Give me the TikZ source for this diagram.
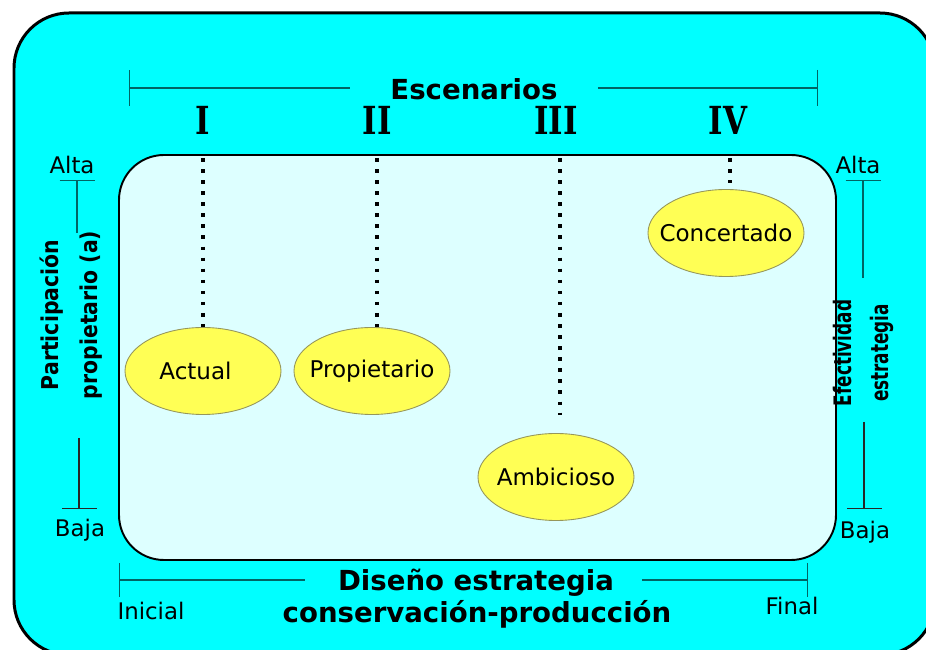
\documentclass[tikz,border=0pt]{standalone}
\usepackage{fontspec}
\usepackage{tikz}
\usetikzlibrary{shapes.geometric,arrows.meta}
\setmainfont{DejaVu Sans}
\newfontfamily\romanfont[FakeStretch=0.8]{DejaVu Serif}
\newfontfamily\narrowfont[FakeStretch=0.88]{DejaVu Sans}
\newfontfamily\narrowerfont[FakeStretch=0.7]{DejaVu Sans}

\begin{document}
\begin{tikzpicture}[
        escenario/.style={ellipse, draw=borde, fill=amarillo, line width=0.5pt, minimum width=3.12cm, minimum height=1.74cm, inner xsep=-0.4cm, inner ysep=0pt, font=\fontsize{13.1}{15}\selectfont},
        punteado/.style={line width=2pt, dash pattern=on 2pt off 4.3pt},
        escala/.style={draw=linea, line width=0.75pt},
        escalabaja/.style={draw=black!85, line width=1.1pt},
        nivel/.style={inner sep=0pt, font=\fontsize{13}{15}\selectfont},
        titulo/.style={inner sep=0pt, font=\fontsize{15.7}{18}\selectfont\bfseries},
        romano/.style={inner sep=0pt, font={\romanfont\bfseries\fontsize{22}{24}\selectfont}}
    ]
            \xdefinecolor{cian}{RGB}{0, 255, 255}
            \xdefinecolor{cianclaro}{RGB}{221, 255, 255}
            \xdefinecolor{amarillo}{RGB}{255, 255, 85}
            \xdefinecolor{borde}{RGB}{150, 150, 90}
            \xdefinecolor{linea}{RGB}{0, 100, 100}

            \useasboundingbox (0, 0) rectangle (18.52, -13);

            % Outer frame and inner panel
            \draw[line width=1.7pt, fill=cian, rounded corners=1.1cm] (0.28, -0.26) rectangle (18.7, -13.1);
            \node[draw, line width=1.1pt, fill=cianclaro, rounded corners=0.9cm, minimum width=14.34cm, minimum height=8.1cm, inner sep=0pt] (panel) at (9.55, -7.15) {};

            % Scenarios
            \node[escenario] (actual) at (4.06, -7.42) {\hspace*{-0.3cm}Actual};
            \node[escenario] (propietario) at (7.44, -7.42) {Propietario};
            \node[escenario] (ambicioso) at (11.12, -9.54) {Ambicioso};
            \node[escenario] (concertado) at (14.52, -4.66) {Concertado};

            % Roman numerals and dotted guides
            \foreach \x/\num in {4.06/I, 7.54/II, 11.12/III, 14.56/IV} {
                    \node[romano] (rom-\num) at (\x, -2.4) {\num};
                }
            \foreach \x [count=\i] in {4.06, 7.54, 11.2, 14.6} {
                    \coordinate (d\i) at (\x, -3.16);
                }
            \draw[punteado] (d1) -- (d1 |- actual.north);
            \draw[punteado] (d2) -- (d2 |- propietario.north);
            \draw[punteado, shorten >=0.36cm] (d3) -- (d3 |- ambicioso.north);
            \draw[punteado, shorten >=0.12cm] (d4) -- (d4 |- concertado.north);

            % Top scale
            \node[titulo] (escenarios) at (9.48, -1.78) {Escenarios};
            \coordinate (esc-ini) at (2.58, -1.76);
            \coordinate (esc-fin) at (16.36, -1.76);
            \draw[escala, {Bar[width=0.72cm]}-, shorten >=0.8cm] (esc-ini) -- (esc-ini -| escenarios.west);
            \draw[escala, -{Bar[width=0.72cm]}, shorten <=0.8cm] (esc-fin -| escenarios.east) -- (esc-fin);

            % Bottom scale
            \node[titulo] (diseno) at (9.52, -11.66) {Diseño estrategia};
            \node[titulo] (conservacion) at (9.54, -12.28) {conservación-producción};
            \coordinate (dis-ini) at (2.38, -11.6);
            \coordinate (dis-fin) at (16.16, -11.6);
            \draw[escala, {Bar[width=0.68cm]}-, shorten >=0.66cm] (dis-ini) -- (dis-ini -| diseno.west);
            \draw[escala, -{Bar[width=0.68cm]}, shorten <=0.56cm] (dis-fin -| diseno.east) -- (dis-fin);
            \node[nivel] (inicial) at (3.02, -12.22) {Inicial};
            \node[nivel] (final) at (15.84, -12.12) {Final};

            % Left scale
            \node[nivel] (alta-izq) at (1.44, -3.3) {Alta};
            \node[nivel] (baja-izq) at (1.6, -10.6) {Baja};
            \coordinate (izq-sup) at (1.54, -3.6);
            \coordinate (izq-sup-fin) at (1.54, -4.66);
            \coordinate (izq-inf-ini) at (1.58, -8.76);
            \coordinate (izq-inf) at (1.58, -10.18);
            \draw[escala, {Bar[width=0.7cm]}-] (izq-sup) -- (izq-sup-fin);
            \draw[escalabaja, -{Bar[width=0.7cm, line width=0.75pt]}] (izq-inf-ini) -- (izq-inf);
            \node[rotate=90, align=center, inner sep=0pt, font={\narrowfont\bfseries\fontsize{13.2}{22}\selectfont}] (participacion) at (1.42, -6.3) {Participación\\propietario (a)};

            % Right scale
            \node[nivel] (alta-der) at (17.16, -3.3) {Alta};
            \node[nivel] (baja-der) at (17.3, -10.64) {Baja};
            \coordinate (der-sup) at (17.26, -3.6);
            \coordinate (der-sup-fin) at (17.26, -5.56);
            \coordinate (der-inf-ini) at (17.28, -8.44);
            \coordinate (der-inf) at (17.28, -10.18);
            \draw[escala, {Bar[width=0.7cm]}-] (der-sup) -- (der-sup-fin);
            \draw[escalabaja, -{Bar[width=0.7cm, line width=0.75pt]}] (der-inf-ini) -- (der-inf);
            \node[rotate=90, align=center, inner sep=0pt, font={\narrowerfont\bfseries\fontsize{13.7}{21}\selectfont}] (efectividad) at (17.26, -7.06) {Efectividad\\estrategia};

        \end{tikzpicture}
\end{document}
